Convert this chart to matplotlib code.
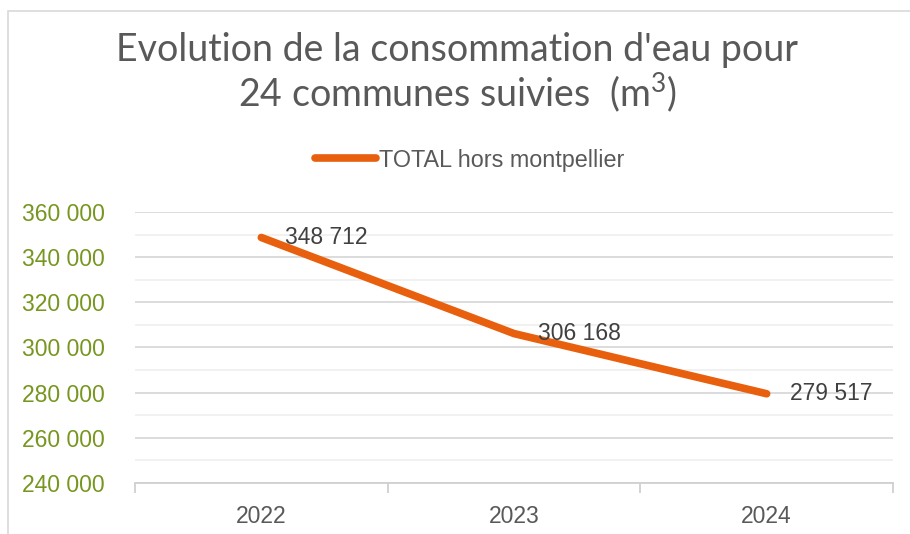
import matplotlib
matplotlib.use("Agg")
import matplotlib.pyplot as plt
from matplotlib.ticker import MultipleLocator, FuncFormatter
from matplotlib.patches import Rectangle

plt.rcParams["mathtext.fontset"] = "custom"
plt.rcParams["mathtext.rm"] = "Lato"
plt.rcParams["mathtext.default"] = "regular"

years = ["2022", "2023", "2024"]
values = [348712, 306168, 279517]
series_name = "TOTAL hors montpellier"
title = "Evolution de la consommation d'eau pour\n24 communes suivies  (m$^{3}$)"

W, H = 910, 534
fig = plt.figure(figsize=(W / 100, H / 100), dpi=100)
fig.patch.set_facecolor("white")

# chart frame
fig.patches.append(Rectangle((8 / W, -0.1), 1.2, (H - 11) / H + 0.1,
                             transform=fig.transFigure, fill=False,
                             edgecolor="#d9d9d9", linewidth=1.2))

ax = fig.add_axes([135 / W, (H - 483) / H, (893 - 135) / W, (483 - 212) / H])
x = list(range(len(years)))
line, = ax.plot(x, values, color="#E8600E", linewidth=5.5,
                solid_capstyle="round", solid_joinstyle="round", zorder=3)

ax.set_xlim(-0.5, 2.5)
ax.set_ylim(240000, 360000)
ax.yaxis.set_major_locator(MultipleLocator(20000))
ax.yaxis.set_minor_locator(MultipleLocator(10000))
ax.yaxis.set_major_formatter(FuncFormatter(lambda v, p: f"{int(v):,}".replace(",", " ")))
ax.grid(True, which="major", axis="y", color="#d9d9d9", linewidth=1.3)
ax.grid(True, which="minor", axis="y", color="#f0f0f0", linewidth=1.3)
ax.set_axisbelow(True)

for s in ["top", "right", "left"]:
    ax.spines[s].set_visible(False)
ax.spines["bottom"].set_color("#d0d0d0")
ax.spines["bottom"].set_linewidth(1.3)

ax.set_xticks(x)
ax.set_xticklabels(years)
ax.set_xticks([-0.5, 0.5, 1.5, 2.5], minor=True)
ax.tick_params(axis="x", which="major", length=0, pad=16, labelsize=16.5,
               labelcolor="#595959")
ax.tick_params(axis="x", which="minor", length=7, color="#d0d0d0", width=1.3)
ax.tick_params(axis="y", which="both", length=0, pad=22, labelsize=16.5,
               labelcolor="#77961F")
for lab in ax.get_xticklabels() + ax.get_yticklabels():
    lab.set_fontfamily("Liberation Sans")

for xi, v in zip(x, values):
    ax.annotate(f"{v:,}".replace(",", " "), (xi, v), xytext=(17, 0),
                textcoords="offset points", va="center", ha="left",
                fontsize=16.5, color="#404040", family="Liberation Sans", zorder=4)

fig.text(457 / W, 1 - 73 / H, title, ha="center", va="center",
         fontsize=27, color="#595959", family="Lato", linespacing=1.08)

leg = fig.legend([line], [series_name], loc="center", bbox_to_anchor=(470 / W, 1 - 160 / H),
                 frameon=False, handlelength=2.6, handletextpad=0.15,
                 prop={"family": "Liberation Sans", "size": 16.8})
for t in leg.get_texts():
    t.set_color("#595959")

fig.savefig("out.png", dpi=100, facecolor="white")
